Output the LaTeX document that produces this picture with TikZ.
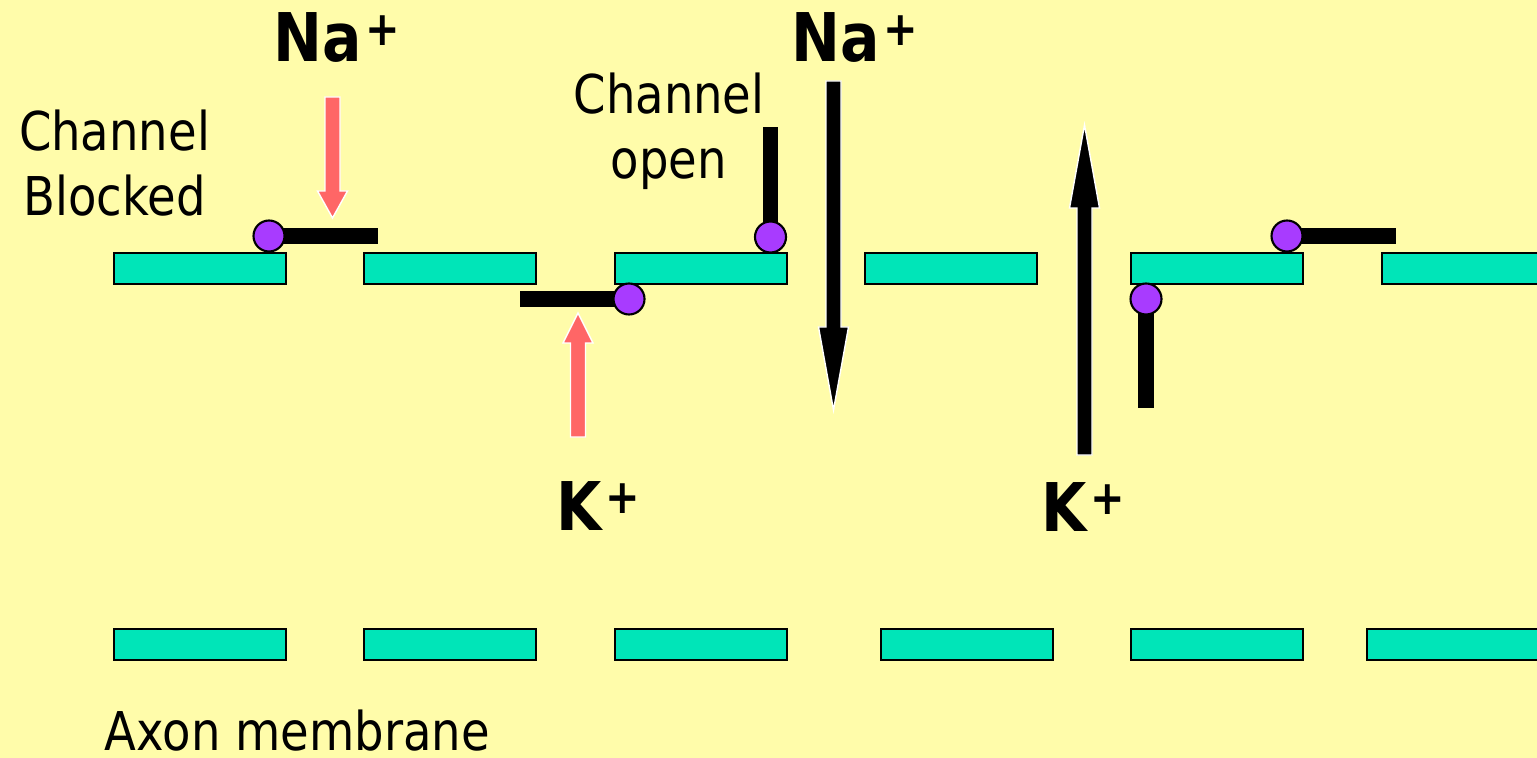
\documentclass[tikz,border=0pt]{standalone}
\usepackage{fontspec}
\setmainfont[FakeStretch=0.87]{DejaVu Sans}
\definecolor{slide}{RGB}{255,252,170}
\definecolor{lipid}{RGB}{0,229,184}
\definecolor{hinge}{RGB}{168,59,255}
\definecolor{flowred}{RGB}{255,102,102}
% charge sign set small and raised after the ion symbol
\newcommand{\ionplus}{\kern1pt\raisebox{4.6pt}{\fontsize{13.5}{13.5}\selectfont +}}
% block arrow: x, tail y, head base y, tip y, fill colour
\newcommand{\ionarrow}[5]{%
  \filldraw[draw=white, line width=0.4pt, fill=#5]
    (#1-7.5,#2) -- (#1-7.5,#3) -- (#1-15,#3) -- (#1,#4)
    -- (#1+15,#3) -- (#1+7.5,#3) -- (#1+7.5,#2) -- cycle;}

\begin{document}
\begin{tikzpicture}[x=0.01cm, y=-0.01cm,
    membrane/.style={draw, fill=lipid, line width=0.6pt, minimum width=1.72cm,
      minimum height=0.31cm, inner sep=0pt, anchor=north west},
    hingeball/.style={circle, draw, fill=hinge, line width=0.6pt,
      minimum size=3.1mm, inner sep=0pt},
    gatebar/.style={line width=1.55mm},
    textlabel/.style={inner sep=0pt, align=center,
      font=\fontsize{15.2}{18.5}\selectfont},
    ion/.style={inner sep=0pt, anchor=base west,
      font=\fontsize{19.1}{22}\selectfont\bfseries}]
  \useasboundingbox (0,0) rectangle (1537,758);
  \fill[slide] (0,0) rectangle (1537,758);
  \clip (0,0) rectangle (1537,758);

  % the two rows of membrane pieces
  \foreach \x [count=\i] in {113,363,614,864,1130,1381}
    \node[membrane] (top\i) at (\x,252) {};
  \foreach \x [count=\i] in {113,363,614,880,1130,1366}
    \node[membrane] (bot\i) at (\x,628) {};

  % gates: bar from the hinge to its free end
  \coordinate (h1) at (269,236);    \coordinate (e1) at (378,236);
  \coordinate (h2) at (629,299);    \coordinate (e2) at (520,299);
  \coordinate (h3) at (770.5,237);  \coordinate (e3) at (770.5,127);
  \coordinate (h4) at (1146,299);   \coordinate (e4) at (1146,408);
  \coordinate (h5) at (1287,236);   \coordinate (e5) at (1396,236);
  \foreach \i in {1,...,5}
    \draw[gatebar] (h\i) -- (e\i);
  \foreach \i in {1,...,5}
    \node[hingeball] (g\i) at (h\i) {};

  % ion flow
  \ionarrow{332.5}{97}{191}{218}{flowred}
  \ionarrow{578}{437}{343}{313}{flowred}
  \ionarrow{833.5}{81}{327}{410}{black}
  \ionarrow{1084.5}{455}{208}{125}{black}

  \node[ion] (na1) at (273,62) {Na\ionplus};
  \node[ion] (na2) at (791,62) {Na\ionplus};
  \node[ion] (k1) at (556,530) {K\ionplus};
  \node[ion] (k2) at (1041,531) {K\ionplus};

  \node[textlabel, anchor=north] (blocked) at (114.5,109) {Channel\\Blocked};
  \node[textlabel, anchor=north] (open) at (669,72) {Channel\\open};
  \node[textlabel, anchor=base west] (axon) at (104,750) {Axon membrane};
\end{tikzpicture}
\end{document}
